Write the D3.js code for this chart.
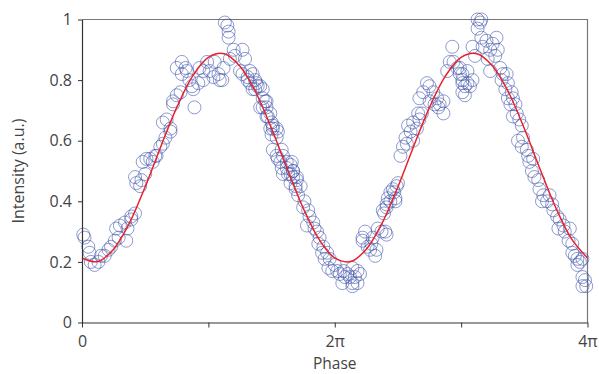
<!DOCTYPE html>
<html>
<head>
<meta charset="utf-8">
<script src="https://d3js.org/d3.v7.min.js"></script>
<style>
  body { margin: 0; background: #fff; }
  text { font-family: "Open Sans", "Noto Sans", sans-serif; fill: #444; }
</style>
</head>
<body>
<div id="chart"></div>
<script>
// measured points: phase (in units of pi) and intensity
var phasePi = [
  0.01,0.02,0.05,0.06,0.07,0.10,0.13,0.15,0.18,0.21,0.23,0.26,0.29,0.27,0.30,0.34,0.36,0.35,0.39,0.42,0.39,
  0.42,0.43,0.46,0.47,0.50,0.48,0.51,0.54,0.56,0.58,0.59,0.62,0.64,0.66,
  0.64,0.67,0.70,0.70,0.72,0.75,0.72,0.78,0.75,0.79,0.82,0.83,0.79,0.85,0.87,0.88,0.89,0.92,0.93,0.96,0.96,
  0.99,1.01,1.04,1.05,1.08,1.09,1.11,1.12,1.13,1.15,1.16,1.16,1.17,1.20,1.21,1.25,1.27,1.29,1.27,1.31,1.33,
  1.35,1.37,1.39,1.43,1.45,1.41,1.46,1.47,1.50,1.51,1.55,1.54,1.58,1.59,1.62,1.65,1.67,1.70,
  1.33,1.31,1.35,1.38,1.37,1.41,1.43,1.46,1.43,1.49,1.46,1.49,1.51,1.50,1.54,1.51,1.54,1.55,1.57,1.58,1.62,
  1.65,1.59,1.63,1.67,1.70,1.73,1.65,1.69,
  1.66,1.67,1.69,1.71,1.76,1.75,1.79,1.80,1.78,1.83,1.84,1.86,1.88,1.87,1.91,1.90,1.94,1.92,1.96,1.95,1.98,
  2.00,2.02,2.04,2.07,2.08,2.06,2.10,2.12,2.14,2.16,2.18,2.18,2.14,2.20,2.14,
  2.22,2.24,2.22,2.26,2.28,2.29,2.30,2.33,2.32,2.34,2.37,2.40,2.41,2.38,2.41,2.42,2.44,2.46,2.49,2.48,2.50,
  2.41,2.44,2.47,2.39,2.48,2.52,2.54,2.57,2.56,2.60,2.62,2.58,2.62,2.65,2.67,2.66,2.69,
  2.67,2.70,2.73,2.75,2.78,2.75,2.81,2.83,2.86,2.82,2.86,2.79,
  2.93,2.89,2.91,2.94,2.97,2.99,3.01,3.01,3.03,3.05,2.99,3.05,
  3.01,3.01,3.07,3.03,3.09,3.13,3.15,3.16,3.13,3.16,3.09,3.11,3.17,3.20,3.23,3.25,3.28,3.29,3.27,3.23,3.21,
  3.31,3.33,3.32,3.36,3.37,3.35,3.40,3.37,3.41,3.39,3.43,3.44,3.41,3.46,3.48,3.45,3.49,3.48,3.52,3.53,3.54,
  3.57,3.56,3.58,3.61,3.62,3.65,3.64,3.68,3.70,3.72,3.73,3.76,3.78,3.77,3.81,3.82,3.85,3.86,3.88,3.88,3.90,
  3.92,3.92,3.94,3.96,3.96,3.98,3.99,3.96
];
var intensity = [
  0.29,0.28,0.25,0.23,0.20,0.19,0.20,0.22,0.22,0.24,0.25,0.27,0.28,0.31,0.32,0.33,0.31,0.27,0.35,0.36,0.34,
  0.48,0.46,0.45,0.47,0.49,0.53,0.54,0.54,0.53,0.55,0.55,0.58,0.59,0.61,
  0.66,0.67,0.64,0.63,0.73,0.75,0.72,0.76,0.84,0.86,0.84,0.83,0.82,0.80,0.78,0.77,0.71,0.79,0.84,0.83,0.80,
  0.86,0.83,0.81,0.86,0.82,0.80,0.80,0.84,0.99,0.98,0.96,0.94,0.87,0.90,0.88,0.83,0.90,0.87,0.82,0.80,0.79,
  0.77,0.80,0.78,0.77,0.73,0.71,0.71,0.68,0.66,0.64,0.63,0.61,0.57,0.55,0.51,0.49,0.50,0.48,
  0.83,0.81,0.82,0.79,0.77,0.78,0.74,0.73,0.71,0.69,0.68,0.64,0.65,0.62,0.64,0.57,0.55,0.54,0.53,0.51,0.53,
  0.52,0.49,0.49,0.48,0.47,0.45,0.46,0.45,
  0.53,0.50,0.44,0.42,0.40,0.38,0.37,0.35,0.32,0.33,0.31,0.30,0.28,0.26,0.25,0.23,0.23,0.21,0.21,0.18,0.17,
  0.19,0.17,0.16,0.17,0.15,0.13,0.16,0.15,0.13,0.15,0.17,0.13,0.12,0.16,0.18,
  0.28,0.30,0.27,0.25,0.24,0.26,0.28,0.24,0.22,0.31,0.30,0.30,0.29,0.37,0.39,0.41,0.43,0.44,0.45,0.41,0.46,
  0.38,0.40,0.43,0.36,0.40,0.55,0.58,0.59,0.61,0.63,0.60,0.65,0.66,0.64,0.67,0.69,0.69,
  0.74,0.76,0.79,0.78,0.76,0.73,0.74,0.72,0.69,0.71,0.73,0.72,
  0.91,0.83,0.86,0.86,0.84,0.82,0.80,0.76,0.78,0.79,0.84,0.83,
  0.82,0.79,0.78,0.75,0.80,1.00,0.99,1.00,0.97,0.94,0.91,0.88,0.91,0.93,0.90,0.92,0.94,0.90,0.88,0.83,0.87,
  0.84,0.82,0.80,0.82,0.79,0.77,0.76,0.74,0.74,0.72,0.72,0.69,0.68,0.67,0.65,0.60,0.61,0.58,0.57,0.55,0.53,
  0.54,0.50,0.48,0.47,0.44,0.42,0.40,0.40,0.42,0.39,0.37,0.35,0.34,0.31,0.32,0.30,0.27,0.31,0.26,0.23,0.22,
  0.21,0.19,0.20,0.21,0.15,0.14,0.12,0.12
];

// red fit curve, read every pi/8
var fitPhasePi = d3.range(0, 4.001, 0.125);
var fitValues = [
  0.213,0.201,0.242,0.328,0.448,0.582,0.710,0.813,0.875,0.887,0.846,0.760,0.640,0.506,0.378,0.275,
  0.213,0.201,0.242,0.328,0.448,0.582,0.710,0.813,0.875,0.887,0.846,0.760,0.640,0.506,0.378,0.275,
  0.213
];

var xTicks = [0, 1, 2, 3, 4];
var xTickLabels = {0: "0", 2: "2\u03c0", 4: "4\u03c0"};
var yTicks = [0, 0.2, 0.4, 0.6, 0.8, 1];

var W = 599, H = 374;
var margin = {left: 82, top: 19.5, right: 11.5, bottom: 51.5};
var w = W - margin.left - margin.right,
    h = H - margin.top - margin.bottom;

var x = d3.scaleLinear().domain([0, 4 * Math.PI]).range([0, w]);
var y = d3.scaleLinear().domain([0, 1]).range([h, 0]);

var svg = d3.select("#chart").append("svg")
    .attr("width", W).attr("height", H);
var g = svg.append("g")
    .attr("transform", "translate(" + margin.left + "," + margin.top + ")");

// frame top/right
g.append("path")
    .attr("d", "M0,0H" + w + "V" + h)
    .attr("fill", "none").attr("stroke", "#777").attr("stroke-width", 1.2);

// points
var pts = phasePi.map(function(p, i) { return {x: p * Math.PI, y: intensity[i]}; });
g.append("g").selectAll("circle")
    .data(pts)
  .enter().append("circle")
    .attr("cx", function(d) { return x(d.x); })
    .attr("cy", function(d) { return y(d.y); })
    .attr("r", 6.5)
    .attr("fill", "none")
    .attr("stroke", "#3c50a8")
    .attr("stroke-opacity", 0.72)
    .attr("stroke-width", 0.8);

// fit line
var fit = fitPhasePi.map(function(p, i) { return {x: p * Math.PI, y: fitValues[i]}; });
g.append("path")
    .datum(fit)
    .attr("fill", "none")
    .attr("stroke", "#e8212b")
    .attr("stroke-width", 1.5)
    .attr("d", d3.line().curve(d3.curveCatmullRom)
        .x(function(d) { return x(d.x); })
        .y(function(d) { return y(d.y); }));

// axes
var xAxis = d3.axisBottom(x)
    .tickValues(xTicks.map(function(t) { return t * Math.PI; }))
    .tickSize(5).tickSizeOuter(0)
    .tickFormat(function(d, i) { return xTickLabels[xTicks[i]] || ""; });
var gx = g.append("g").attr("transform", "translate(0," + h + ")").call(xAxis);
gx.select(".domain").attr("stroke", "#333").attr("stroke-width", 1.2);
gx.selectAll(".tick line").attr("stroke", "#333");
gx.selectAll("text").attr("font-size", 16).attr("y", 24).attr("dy", 0).attr("fill", "#444");

var yAxis = d3.axisLeft(y)
    .tickValues(yTicks)
    .tickSize(4).tickSizeOuter(0)
    .tickFormat(function(d) { return d === 0 || d === 1 ? String(d) : d.toFixed(1); });
var gy = g.append("g").call(yAxis);
gy.select(".domain").attr("stroke", "#333").attr("stroke-width", 1.2);
gy.selectAll(".tick line").attr("stroke", "#333");
gy.selectAll("text").attr("font-size", 16).attr("x", -10).attr("fill", "#444");

svg.append("text")
    .attr("x", margin.left + w / 2).attr("y", 369)
    .attr("text-anchor", "middle").attr("font-size", 15.5)
    .text("Phase");

svg.append("text")
    .attr("transform", "translate(24," + (margin.top + h / 2) + ") rotate(-90)")
    .attr("text-anchor", "middle").attr("font-size", 16)
    .text("Intensity (a.u.)");
</script>
</body>
</html>
